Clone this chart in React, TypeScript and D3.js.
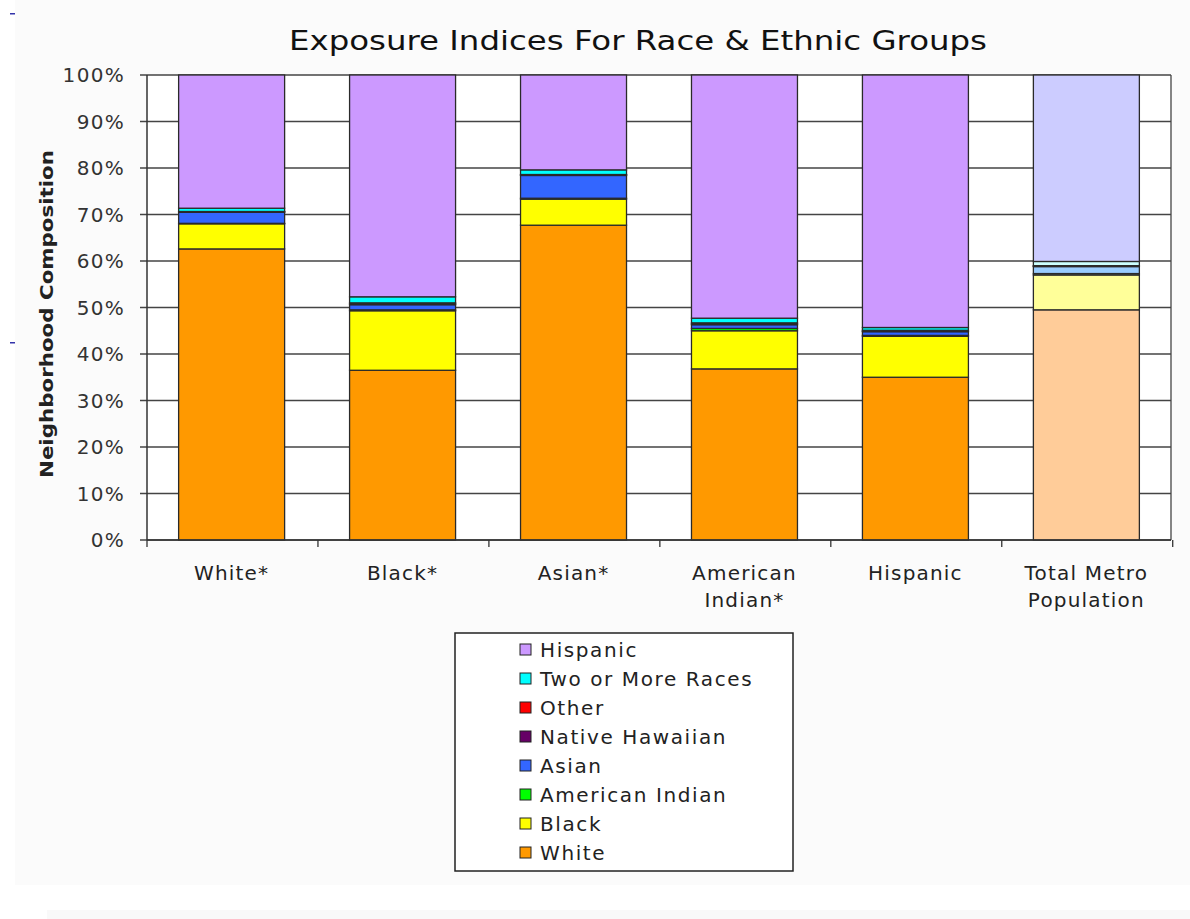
import React from "react";
import * as d3 from "d3";

const categories = ["White*", "Black*", "Asian*", "American Indian*", "Hispanic", "Total Metro Population"];
const categoryLines = [["White*"], ["Black*"], ["Asian*"], ["American", "Indian*"], ["Hispanic"], ["Total Metro", "Population"]];

const seriesNames = ["White", "Black", "American Indian", "Asian", "Native Hawaiian", "Other", "Two or More Races", "Hispanic"];
const white = [62.6, 36.5, 67.7, 36.8, 35.0, 49.5];
const black = [5.4, 12.8, 5.6, 8.2, 8.8, 7.5];
const americanIndian = [0.1, 0.2, 0.2, 0.5, 0.2, 0.3];
const asian = [2.4, 1.1, 4.9, 0.8, 0.8, 1.5];
const nativeHawaiian = [0.05, 0.2, 0.1, 0.2, 0.1, 0.1];
const other = [0.1, 0.2, 0.1, 0.2, 0.2, 0.1];
const twoOrMore = [0.7, 1.3, 1.0, 1.0, 0.6, 0.9];
const hispanic = [28.65, 47.7, 20.4, 52.3, 54.3, 40.1];
const seriesValues = [white, black, americanIndian, asian, nativeHawaiian, other, twoOrMore, hispanic];

const yTicks = [0, 10, 20, 30, 40, 50, 60, 70, 80, 90, 100];

const colors = ["#ff9900", "#ffff00", "#00ff00", "#3366ff", "#660066", "#ff0000", "#00ffff", "#cc99ff"];
const paleColors = ["#ffcc99", "#ffff99", "#ccffcc", "#99ccff", "#cc99cc", "#ff9999", "#ccffff", "#ccccff"];
const paleCategory = "Total Metro Population";

const FONT = "'DejaVu Sans', Verdana, sans-serif";

export default function App() {
  const W = 1190, H = 919;
  const left = 147, right = 1171, top = 75, bottom = 540;

  const x = d3.scaleBand<string>().domain(categories).range([left, right]).paddingInner(0.38).paddingOuter(0.185);
  const y = d3.scaleLinear().domain([0, 100]).range([bottom, top]);

  const rows = categories.map((c, i) => {
    const r: any = { cat: c };
    seriesNames.forEach((s, k) => (r[s] = seriesValues[k][i]));
    return r;
  });
  const stacked = d3.stack<any>().keys(seriesNames)(rows);
  const step = x.step();

  const legendItems = seriesNames.map((s, k) => ({ s, k })).reverse();

  return (
    <svg width={W} height={H} style={{ position: "absolute", left: 0, top: 0, background: "#ffffff" }}>
      <rect x={15} y={0} width={1175} height={885} fill="#fbfbfb" />
      <rect x={47} y={910} width={1143} height={9} fill="#f9f9f9" />
      <rect x={10} y={13} width={5} height={1.5} fill="#3333aa" />
      <rect x={10} y={342} width={5} height={1.5} fill="#3333aa" />

      <text x={638} y={50} textAnchor="middle" fontFamily={FONT} fontSize={26} fill="#111" textLength={698} lengthAdjust="spacingAndGlyphs">
        Exposure Indices For Race &amp; Ethnic Groups
      </text>

      <rect x={left} y={top} width={right - left} height={bottom - top} fill="#ffffff" />
      {yTicks.map((t) => (
        <g key={t}>
          <line x1={left - 7} x2={right} y1={y(t)} y2={y(t)} stroke="#444" strokeWidth={1.3} />
          <text x={125} y={y(t) + 7} textAnchor="end" fontFamily={FONT} fontSize={20} letterSpacing={1.3} fill="#333">
            {t}%
          </text>
        </g>
      ))}
      <line x1={right} x2={right} y1={top} y2={bottom} stroke="#444" strokeWidth={1.3} />

      {stacked.map((layer, k) => (
        <g key={layer.key}>
          {layer.map((d: any, i: number) => {
            const c = categories[i];
            return (
              <rect
                key={c}
                x={x(c)}
                y={y(d[1])}
                width={x.bandwidth()}
                height={Math.max(0, y(d[0]) - y(d[1]))}
                fill={c === paleCategory ? paleColors[k] : colors[k]}
                stroke="#2a2a2a"
                strokeWidth={1.3}
              />
            );
          })}
        </g>
      ))}

      <line x1={left} x2={left} y1={top} y2={bottom} stroke="#333" strokeWidth={1.5} />
      <line x1={left} x2={right} y1={bottom} y2={bottom} stroke="#333" strokeWidth={1.5} />
      {d3.range(categories.length + 1).map((i) => (
        <line key={i} x1={left + i * step} x2={left + i * step} y1={bottom} y2={bottom + 7} stroke="#333" strokeWidth={1.3} />
      ))}

      {categories.map((c, i) => (
        <text key={c} textAnchor="middle" fontFamily={FONT} fontSize={20} letterSpacing={1.2} fill="#222">
          {categoryLines[i].map((ln, j) => (
            <tspan key={j} x={(x(c) as number) + x.bandwidth() / 2} y={580 + j * 27}>
              {ln}
            </tspan>
          ))}
        </text>
      ))}

      <text
        transform={`translate(53, 314) rotate(-90)`}
        textAnchor="middle"
        fontFamily={FONT}
        fontSize={18}
        fontWeight="bold"
        fill="#222"
        textLength={328}
        lengthAdjust="spacingAndGlyphs"
      >
        Neighborhood Composition
      </text>

      <rect x={455} y={633} width={338} height={238} fill="#ffffff" stroke="#222" strokeWidth={1.5} />
      {legendItems.map(({ s, k }, j) => {
        const cy = 650 + j * 29;
        return (
          <g key={s}>
            <rect x={520} y={cy - 6} width={11} height={11} fill={colors[k]} stroke="#222" strokeWidth={1} />
            <text x={540} y={cy + 7} fontFamily={FONT} fontSize={20} letterSpacing={1.6} fill="#222">
              {s}
            </text>
          </g>
        );
      })}
    </svg>
  );
}
